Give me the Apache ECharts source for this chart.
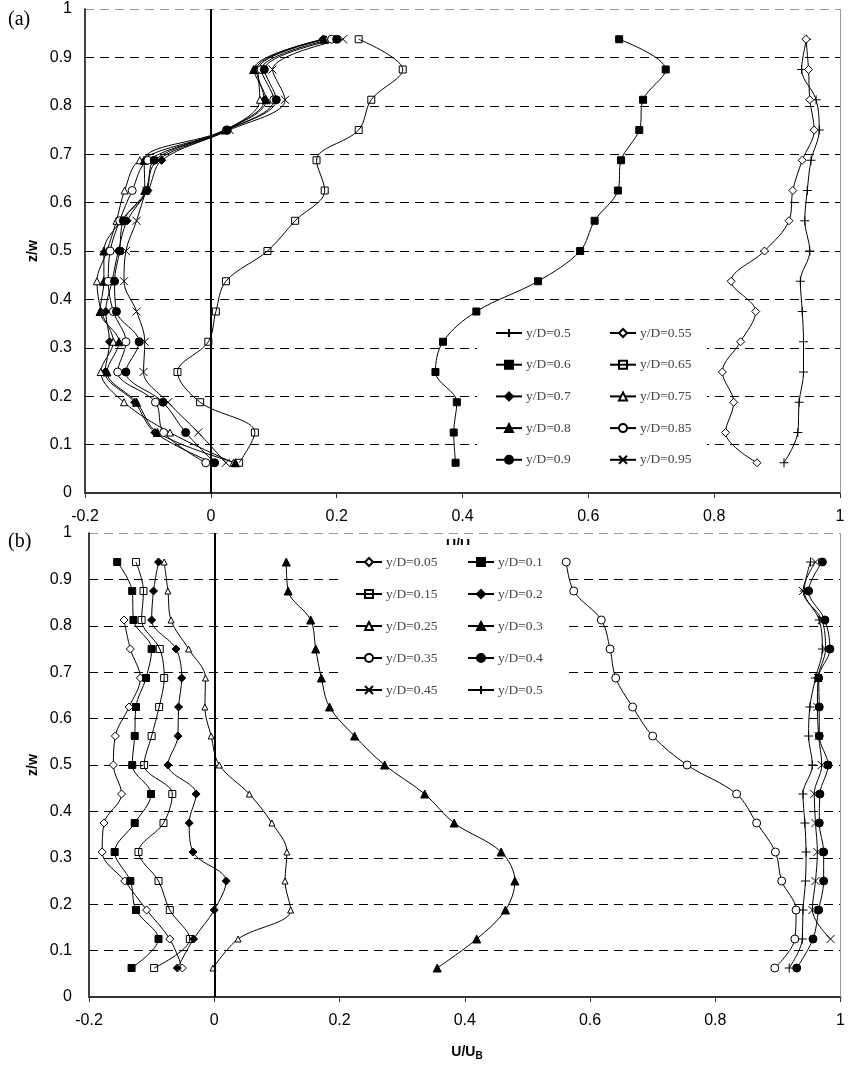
<!DOCTYPE html>
<html><head><meta charset="utf-8">
<script src="https://cdn.jsdelivr.net/npm/echarts@6/dist/echarts.min.js"></script>
<style>html,body{margin:0;padding:0;background:#fff}#c{width:848px;height:1067px}</style>
</head><body><div id="c"></div>
<script>
// z/w levels (bottom -> top)
const zLevels = [0.0625,0.125,0.1875,0.25,0.3125,0.375,0.4375,0.5,0.5625,0.625,0.6875,0.75,0.8125,0.875,0.9375];
const xTicks = [-0.2,0,0.2,0.4,0.6,0.8,1];
const yTicks = [0,0.1,0.2,0.3,0.4,0.5,0.6,0.7,0.8,0.9,1];

// Panel (a) U/U_B values at each z level
const a_05  = [0.911,0.933,0.935,0.942,0.942,0.940,0.937,0.952,0.944,0.948,0.954,0.967,0.962,0.939,0.947];
const a_055 = [0.868,0.818,0.831,0.813,0.842,0.866,0.827,0.880,0.919,0.925,0.940,0.959,0.952,0.950,0.946];
const a_06  = [0.389,0.386,0.391,0.357,0.369,0.422,0.520,0.587,0.610,0.647,0.652,0.681,0.687,0.723,0.649];
const a_065 = [0.045,0.070,-0.017,-0.053,-0.004,0.008,0.024,0.090,0.134,0.181,0.168,0.235,0.255,0.305,0.235];
const a_07  = [0.003,-0.089,-0.121,-0.168,-0.161,-0.167,-0.157,-0.147,-0.133,-0.100,-0.078,0.024,0.085,0.072,0.178];
const a_075 = [0.036,-0.065,-0.138,-0.175,-0.155,-0.174,-0.181,-0.165,-0.150,-0.137,-0.113,0.022,0.078,0.075,0.183];
const a_08  = [0.039,-0.085,-0.118,-0.165,-0.146,-0.176,-0.170,-0.170,-0.143,-0.105,-0.106,0.023,0.088,0.068,0.180];
const a_085 = [-0.008,-0.075,-0.088,-0.148,-0.135,-0.155,-0.163,-0.160,-0.145,-0.125,-0.100,0.025,0.100,0.080,0.192];
const a_09  = [0.006,-0.040,-0.076,-0.135,-0.114,-0.150,-0.153,-0.145,-0.139,-0.102,-0.090,0.026,0.104,0.085,0.200];
const a_095 = [0.024,-0.020,-0.068,-0.107,-0.105,-0.118,-0.138,-0.135,-0.118,-0.103,-0.085,0.030,0.118,0.098,0.210];

// Panel (b)
const b_005 = [-0.051,-0.071,-0.108,-0.143,-0.179,-0.176,-0.148,-0.161,-0.158,-0.136,-0.118,-0.134,-0.144,null,null];
const b_01  = [-0.132,-0.089,-0.125,-0.134,-0.159,-0.127,-0.101,-0.131,-0.127,-0.125,-0.109,-0.100,-0.129,-0.131,-0.155];
const b_015 = [-0.096,-0.039,-0.071,-0.089,-0.121,-0.081,-0.067,-0.112,-0.100,-0.088,-0.080,-0.087,-0.116,-0.113,-0.125];
const b_02  = [-0.059,-0.033,0.000,0.019,-0.034,-0.040,-0.029,-0.074,-0.058,-0.057,-0.052,-0.061,-0.100,-0.097,-0.089];
const b_025 = [-0.002,0.038,0.122,0.113,0.116,0.092,0.056,0.008,-0.005,-0.015,-0.014,-0.041,-0.069,-0.074,-0.080];
const b_03  = [0.356,0.419,0.465,0.480,0.458,0.383,0.336,0.272,0.224,0.184,0.171,0.162,0.154,0.118,0.115];
const b_035 = [0.895,0.927,0.929,0.906,0.896,0.866,0.834,0.755,0.700,0.668,0.641,0.632,0.618,0.574,0.562];
const b_04  = [0.930,0.956,0.965,0.973,0.973,0.966,0.967,0.980,0.966,0.966,0.965,0.983,0.975,0.949,0.971];
const b_045 = [null,0.984,0.955,0.960,0.963,0.960,0.958,0.970,0.965,0.963,0.964,0.976,0.970,0.940,0.960];
const b_05  = [0.918,0.939,0.940,0.944,0.945,0.943,0.940,0.955,0.949,0.951,0.960,0.971,0.966,0.942,0.952];

const legendA1 = ['y/D=0.5','y/D=0.6','y/D=0.7','y/D=0.8','y/D=0.9'];
const legendA2 = ['y/D=0.55','y/D=0.65','y/D=0.75','y/D=0.85','y/D=0.95'];
const legendB1 = ['y/D=0.05','y/D=0.15','y/D=0.25','y/D=0.35','y/D=0.45'];
const legendB2 = ['y/D=0.1','y/D=0.2','y/D=0.3','y/D=0.4','y/D=0.5'];

const SANS = '"Liberation Sans", Arial, Helvetica, sans-serif';
const SERIF = '"Liberation Serif", "Times New Roman", serif';

// marker styles
const M = {
  plus:   {symbol:'path://M5,0L5,10M0,5L10,5', size:9, fill:'#000'},
  cross:  {symbol:'path://M0,0L10,10M10,0L0,10', size:8, fill:'#000'},
  oDiam:  {symbol:'diamond', size:8, fill:'#fff'},
  fDiam:  {symbol:'diamond', size:8, fill:'#000'},
  fSq:    {symbol:'rect', size:7, fill:'#000'},
  oSq:    {symbol:'rect', size:7, fill:'rgba(0,0,0,0)'},
  oTri:   {symbol:'triangle', size:7, fill:'#fff'},
  oTriS:  {symbol:'triangle', size:6, fill:'#fff'},
  fTri:   {symbol:'triangle', size:8, fill:'#000'},
  oCirc:  {symbol:'circle', size:8, fill:'#fff'},
  fCirc:  {symbol:'circle', size:8, fill:'#000'}
};

function pts(vals){
  const out=[];
  vals.forEach((v,i)=>{ if(v!==null) out.push([v, zLevels[i]]); });
  return out;
}
function mk(name, vals, gi, m){
  return {
    type:'line', name:name, xAxisIndex:gi, yAxisIndex:gi,
    data:pts(vals), smooth:0.35,
    symbol:m.symbol, symbolSize:m.size,
    lineStyle:{color:'#000', width:1},
    itemStyle:{color:m.fill, borderColor:'#000', borderWidth:1},
    emphasis:{disabled:true}, animation:false, z:3
  };
}
const refLines = (gi)=>({
  type:'line', xAxisIndex:gi, yAxisIndex:gi, data:[], silent:true, animation:false,
  markLine:{symbol:['none','none'], silent:true, label:{show:false}, animation:false,
    data:[{xAxis:0, lineStyle:{color:'#000', width:2, type:'solid'}},
          {xAxis:1, lineStyle:{color:'#999', width:1, type:'solid'}}]}
});

const series = [
  refLines(0), refLines(1),
  mk('y/D=0.5',a_05,0,M.plus), mk('y/D=0.55',a_055,0,M.oDiam),
  mk('y/D=0.6',a_06,0,M.fSq), mk('y/D=0.65',a_065,0,M.oSq),
  mk('y/D=0.7',a_07,0,M.fDiam), mk('y/D=0.75',a_075,0,M.oTri),
  mk('y/D=0.8',a_08,0,M.fTri), mk('y/D=0.85',a_085,0,M.oCirc),
  mk('y/D=0.9',a_09,0,M.fCirc), mk('y/D=0.95',a_095,0,M.cross),
  mk('y/D=0.05',b_005,1,M.oDiam), mk('y/D=0.1',b_01,1,M.fSq),
  mk('y/D=0.15',b_015,1,M.oSq), mk('y/D=0.2',b_02,1,M.fDiam),
  mk('y/D=0.25',b_025,1,M.oTriS), mk('y/D=0.3',b_03,1,M.fTri),
  mk('y/D=0.35',b_035,1,M.oCirc), mk('y/D=0.4',b_04,1,M.fCirc),
  mk('y/D=0.45',b_045,1,M.cross), mk('y/D=0.5',b_05,1,M.plus)
];

const gridColors = yTicks.map((t,i)=> i===yTicks.length-1 ? '#999' : '#000');
function xAx(gi){
  return {type:'value', gridIndex:gi, min:xTicks[0], max:xTicks[xTicks.length-1], interval:0.2,
    axisLine:{show:true, onZero:false, lineStyle:{color:'#333', width:2}},
    axisTick:{show:true, inside:false, length:5, lineStyle:{color:'#333', width:1}},
    axisLabel:{margin:16, color:'#000', fontSize:16, fontFamily:SANS,
      formatter:(v)=> String(Math.round(v*10)/10)},
    splitLine:{show:false}};
}
function yAx(gi, margin){
  return {type:'value', gridIndex:gi, min:yTicks[0], max:yTicks[yTicks.length-1], interval:0.1,
    axisLine:{show:true, onZero:false, lineStyle:{color:'#000', width:1.5}},
    axisTick:{show:false},
    axisLabel:{margin:margin, color:'#000', fontSize:16, fontFamily:SANS,
      formatter:(v)=> String(Math.round(v*10)/10)},
    splitLine:{show:true, lineStyle:{color:gridColors, width:1, type:[9,6]}}};
}
function leg(data, left, top, gap){
  return {data:data, orient:'vertical', left:left, top:top, padding:0, itemGap:gap,
    itemWidth:26, itemHeight:10, selectedMode:false,
    textStyle:{fontFamily:SERIF, fontSize:13.5, color:'#444', lineHeight:14, padding:[0,0,0,-1]}};
}

const option = {
  animation:false,
  backgroundColor:'#fff',
  grid:[{left:85, top:9, width:755, height:484},{left:89, top:533, width:756, height:464}],
  xAxis:[xAx(0), xAx(1)],
  yAxis:[yAx(0,13), yAx(1,17)],
  legend:[leg(legendA1,495,326,17.7), leg(legendA2,609,326,17.7), leg(legendB1,355,555,18), leg(legendB2,467,555,18)],
  graphic:[
    {type:'text', left:8, top:10, z:5, style:{text:'(a)', font:'20px ' + SERIF, fill:'#000'}},
    {type:'text', left:8, top:532, z:5, style:{text:'(b)', font:'20px ' + SERIF, fill:'#000'}},
    {type:'text', x:33, y:251, rotation:Math.PI/2, z:5, style:{text:'z/w', font:'bold 14px ' + SANS, fill:'#000', align:'center', verticalAlign:'middle'}},
    {type:'text', x:33, y:765, rotation:Math.PI/2, z:5, style:{text:'z/w', font:'bold 14px ' + SANS, fill:'#000', align:'center', verticalAlign:'middle'}},
    {type:'text', x:458, y:538, z:1, style:{text:'U/U', font:'bold 14px ' + SANS, fill:'#000', align:'center', verticalAlign:'top'}},
    {type:'rect', z:1, shape:{x:477, y:318, width:230, height:157}, style:{fill:'#fff'}},
    {type:'rect', z:1, shape:{x:340, y:545, width:225, height:160}, style:{fill:'#fff'}},
    {type:'text', x:467, y:1043, z:5, style:{text:'{a|U/U}{b|B}', align:'center', verticalAlign:'top',
      rich:{a:{fontFamily:SANS, fontWeight:'bold', fontSize:14, fill:'#000'},
            b:{fontFamily:SANS, fontWeight:'bold', fontSize:10, fill:'#000', padding:[8,0,0,0]}}}}
  ],
  series:series
};
const chart = echarts.init(document.getElementById('c'), null, {renderer:'canvas'});
chart.setOption(option);
</script></body></html>
